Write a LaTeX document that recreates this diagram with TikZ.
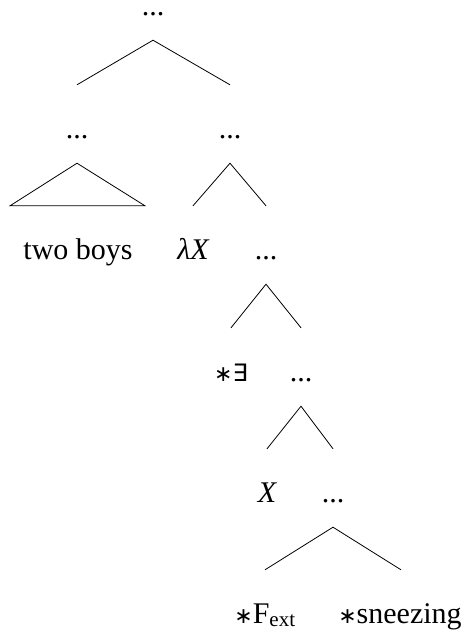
\documentclass[tikz,border=0pt]{standalone}
\usepackage{fontspec}
\setmainfont{Liberation Serif}
\newfontfamily\symfont{DejaVu Sans}
\newcommand{\myast}{{\symfont\fontsize{22}{26}\selectfont ∗}}
\begin{document}
\begin{tikzpicture}[x=1pt,y=-1pt,
  lab/.style={anchor=base, inner sep=0pt, text height=53pt, text depth=25pt, font=\fontsize{30}{34}\selectfont},
  edge/.style={line width=0.8pt}]
\useasboundingbox (0,0) rectangle (463,633);
\node[lab, text height=12pt] (r)  at (153,15)  {...};
\node[lab] (l)  at (77,138)  {...};
\node[lab] (m)  at (230,138) {...};
\node[lab] (tb) at (78,259)  {two boys};
\node[lab] (lx) at (193,259) {\itshape λX};
\node[lab] (m2) at (266,259) {...};
\node[lab] (ex) at (231,381) {\myast{\symfont\fontsize{24}{28}\selectfont ∃}};
\node[lab] (m3) at (301,381) {...};
\node[lab] (x)  at (267,502) {\itshape X};
\node[lab] (m4) at (333,502) {...};
\node[lab] (f)  at (265,623) {\myast F\textsubscript{ext}};
\node[lab] (s)  at (400,623) {\myast sneezing};
\draw[edge] (l.north) -- (r.south) -- (m.north);
\draw[edge] ([xshift=-68pt]tb.north) -- (l.south) -- ([xshift=67pt]tb.north) -- cycle;
\draw[edge] (lx.north) -- (m.south) -- (m2.north);
\draw[edge] (ex.north) -- (m2.south) -- (m3.north);
\draw[edge] (x.north) -- (m3.south) -- (m4.north);
\draw[edge] (f.north) -- (m4.south) -- ([xshift=1pt]s.north);
\end{tikzpicture}
\end{document}
